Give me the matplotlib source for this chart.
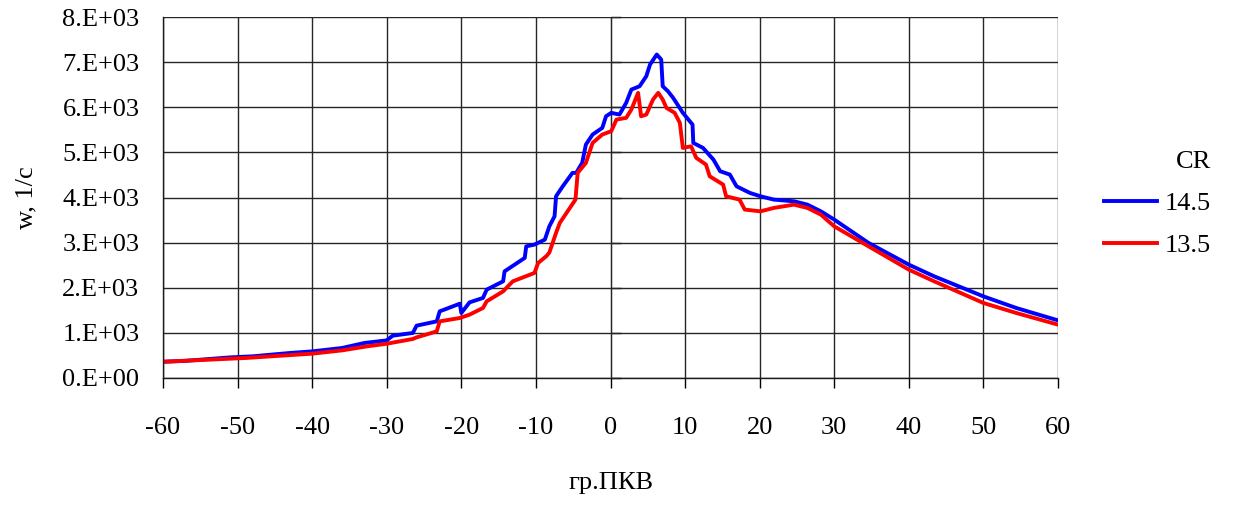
import matplotlib
matplotlib.use("Agg")
import matplotlib.pyplot as plt
from matplotlib.ticker import FuncFormatter

plt.rcParams['font.family'] = ['Liberation Serif', 'DejaVu Serif']
plt.rcParams['axes.unicode_minus'] = False

# --- data ---
angle_145 = [-60, -57, -51, -48, -43, -40, -36, -33, -30, -29.2, -26.5, -26, -23.3, -22.9,
             -20.2, -20.0, -18.9, -17.1, -16.6, -14.4, -14.2, -11.5, -11.3, -10.2, -8.8,
             -8.2, -7.5, -7.3, -6.4, -5.1, -4.6, -3.8, -3.3, -2.4, -1.1, -0.6, 0.1, 1.2,
             2.1, 2.8, 3.9, 4.8, 5.3, 6.2, 6.8, 7.0, 7.7, 8.4, 9.7, 11.0, 11.1, 12.4,
             13.8, 14.7, 16.0, 16.9, 18.7, 20.1, 21.9, 24.6, 26.4, 28.2, 30.0, 34.6,
             40, 43.4, 50, 54.4, 60]
w_145 = [360, 380, 457, 480, 554, 590, 665, 776, 834, 938, 998, 1160, 1255, 1477,
         1647, 1441, 1676, 1774, 1958, 2142, 2364, 2661, 2918, 2956, 3067,
         3361, 3584, 4027, 4248, 4545, 4545, 4767, 5173, 5395, 5543, 5800, 5876, 5838,
         6097, 6392, 6466, 6688, 6947, 7169, 7058, 6466, 6355, 6208, 5876, 5616, 5210, 5099,
         4840, 4582, 4508, 4248, 4101, 4027, 3953, 3916, 3842, 3694, 3510, 2993,
         2512, 2253, 1809, 1552, 1277]

angle_135 = [-60, -49, -40, -36, -32.7, -30, -26.5, -26, -23.3, -22.9, -20.2, -18.9,
             -17.1, -16.6, -14.4, -13.1, -10.2, -9.7, -8.6, -8.2, -7.3, -6.8, -4.7,
             -4.4, -3.3, -2.4, -1.1, 0.1, 0.8, 2.1, 2.8, 3.7, 4.1, 4.8, 5.7, 6.4, 7.0,
             7.5, 8.6, 9.3, 9.7, 10.8, 11.5, 12.8, 13.3, 15.1, 15.5, 17.3, 18.0, 20.1,
             21.9, 24.6, 26.4, 28.2, 30.0, 34.6, 40, 43.4, 50, 54.4, 60]
w_135 = [360, 443, 539, 612, 700, 760, 865, 900, 1033, 1255, 1330, 1404,
         1552, 1699, 1920, 2142, 2328, 2550, 2700, 2780, 3215, 3436, 3953,
         4545, 4767, 5210, 5395, 5469, 5727, 5765, 5950, 6319, 5800, 5838, 6171, 6319, 6171,
         5986, 5876, 5654, 5099, 5134, 4878, 4730, 4470, 4286, 4027, 3953, 3732, 3694,
         3769, 3842, 3769, 3621, 3361, 2918, 2401, 2142, 1663, 1441, 1182]

series_labels = ["14.5", "13.5"]
series_colors = ["#0000FF", "#FF0000"]
x_ticks = list(range(-60, 61, 10))
y_ticks = list(range(0, 8001, 1000))

FS = 19
W, H = 1233, 505
fig = plt.figure(figsize=(W / 100, H / 100), dpi=100)
ax = fig.add_axes([163 / W, 1 - 378 / H, (1058 - 163) / W, (378 - 17) / H])

ax.plot(angle_145, w_145, color=series_colors[0], lw=2.8, label=series_labels[0])
ax.plot(angle_135, w_135, color=series_colors[1], lw=2.8, label=series_labels[1])

ax.set_xlim(-60, 60)
ax.set_ylim(0, 8000)
ax.set_xticks(x_ticks)
ax.set_yticks(y_ticks)

def sci(v, pos):
    if v == 0:
        return "0.E+00"
    exp = 0
    m = v
    while abs(m) >= 10:
        m /= 10
        exp += 1
    return f"{int(round(m))}.E+{exp:02d}"

ax.yaxis.set_major_formatter(FuncFormatter(sci))
ax.grid(True, color='0.15', lw=1.0)
ax.set_axisbelow(True)
for s in ['top', 'right']:
    ax.spines[s].set_visible(False)
for s in ['left', 'bottom']:
    ax.spines[s].set_color('0.1')
    ax.spines[s].set_linewidth(1.0)

ax.tick_params(axis='x', direction='out', length=7, width=1.0, pad=21, labelsize=FS)
ax.tick_params(axis='y', length=0, pad=17, labelsize=FS)

# value axis crossing at x = 0 with small ticks
sec = ax.secondary_yaxis(0.5)
sec.set_yticks(y_ticks)
sec.tick_params(axis='y', direction='out', length=7, width=1.0, labelleft=False, labelright=False)
sec.spines['left'].set_visible(False)

ax.set_xlabel("гр.ПКВ", fontsize=FS, labelpad=24)
ax.set_ylabel("w, 1/c", fontsize=FS, labelpad=18)

leg = ax.legend(title="CR", loc='center left', bbox_to_anchor=(1104 / W, 1 - 204 / H),
                bbox_transform=fig.transFigure, borderaxespad=0, borderpad=0,
                frameon=False, fontsize=FS, title_fontsize=FS,
                handlelength=2.0, handletextpad=0.3, labelspacing=0.7,
                alignment='right')

fig.savefig("out.png", dpi=100)
